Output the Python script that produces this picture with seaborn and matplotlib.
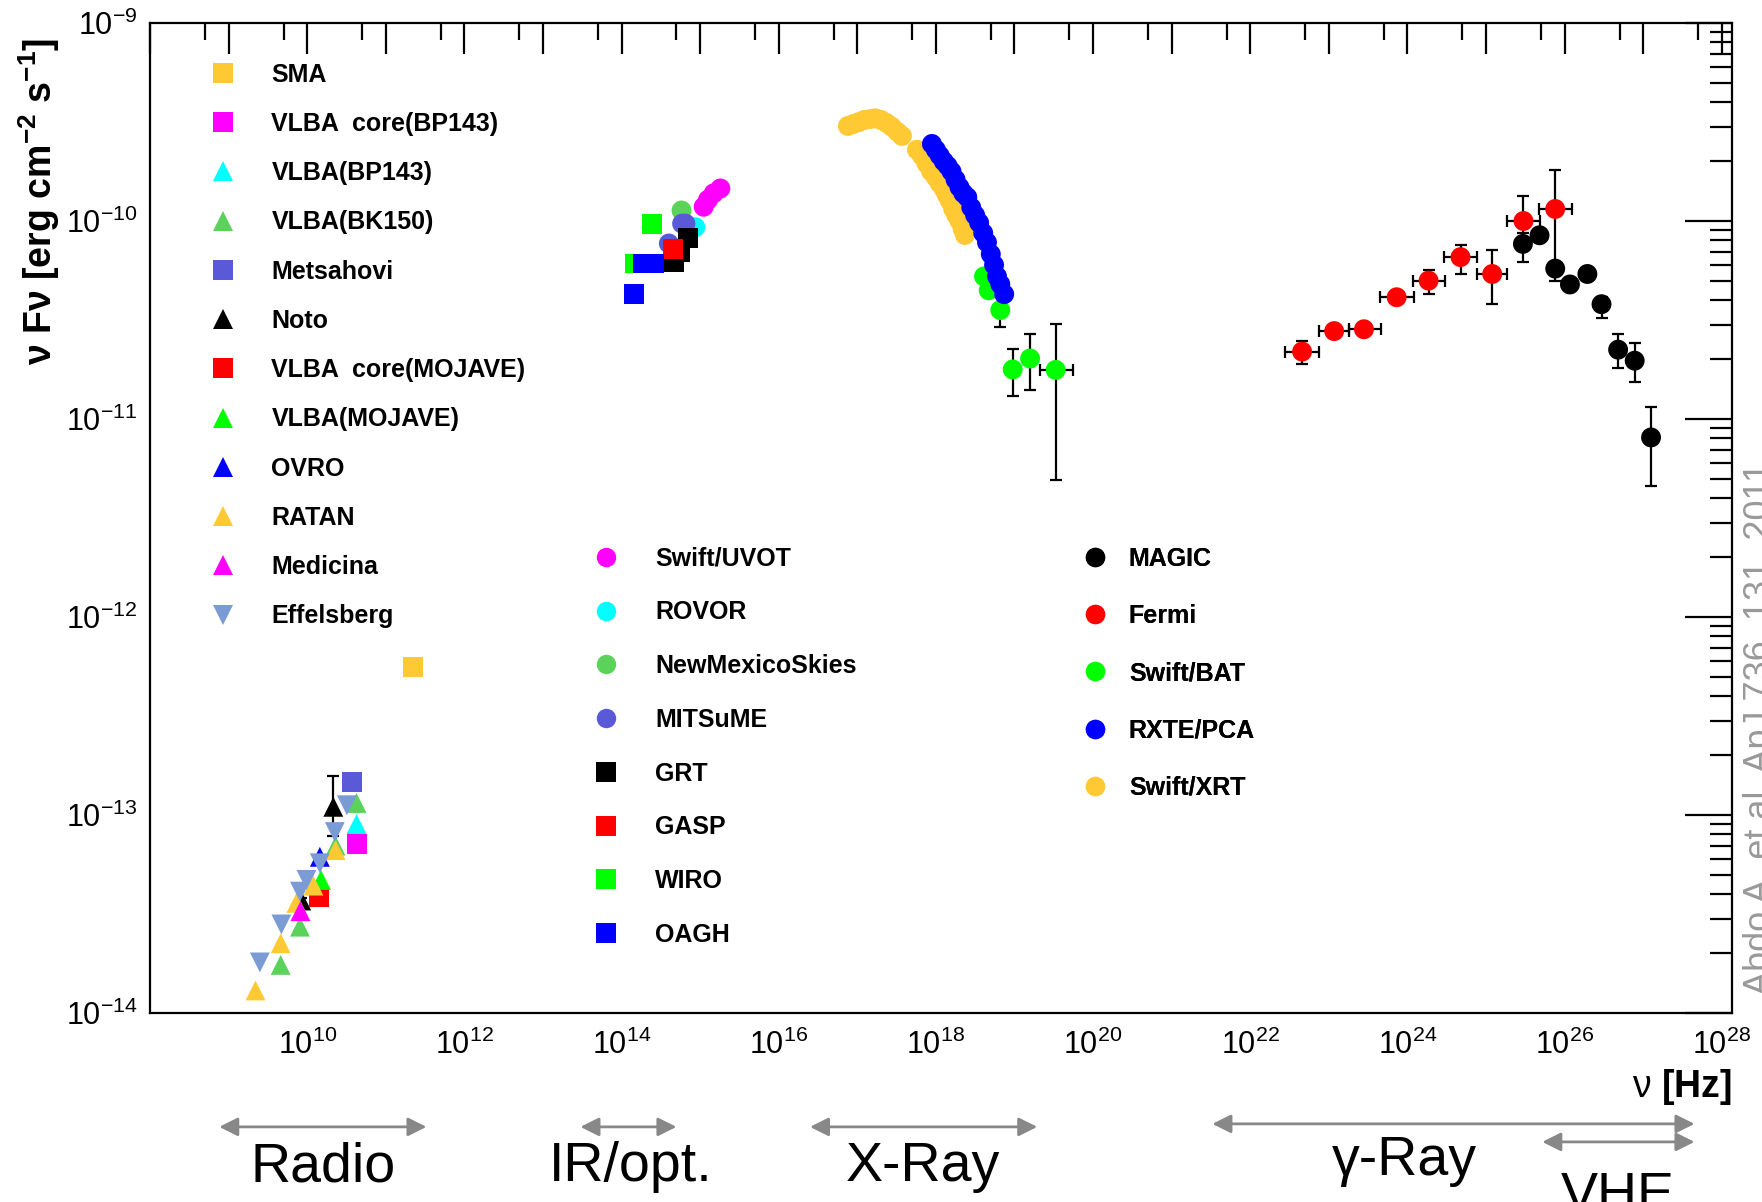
import matplotlib
matplotlib.use("Agg")
import matplotlib.pyplot as plt
import matplotlib.transforms as mtransforms
from matplotlib.lines import Line2D
from matplotlib.ticker import LogLocator, FuncFormatter, NullFormatter
import numpy as np
import pandas as pd
import seaborn as sns

# ---- SED points: (nu [Hz], nu F_nu [erg cm^-2 s^-1]) ----
# radio
sma = ([2.2e11], [5.6e-13])
vlba_core_bp143 = ([4.25e10], [7.15e-14])
vlba_bp143 = ([4.25e10], [9.0e-14])
vlba_bk150 = ([4.6e9, 8.1e9, 2.3e10, 4.25e10], [1.75e-14, 2.73e-14, 7.0e-14, 1.15e-13])
metsahovi = ([3.7e10], [1.47e-13])
noto = ([8.4e9, 2.15e10], [3.7e-14, 1.1e-13])
vlba_core_mojave = ([1.42e10], [3.84e-14])
vlba_mojave = ([1.5e10], [4.7e-14])
ovro = ([1.45e10], [6.15e-14])
ratan = ([2.2e9, 4.6e9, 7.3e9, 1.2e10, 2.3e10], [1.3e-14, 2.25e-14, 3.6e-14, 4.4e-14, 6.65e-14])
medicina = ([8.2e9], [3.27e-14])
effelsberg = ([2.5e9, 4.7e9, 8.1e9, 9.8e9, 1.45e10, 2.25e10, 3.2e10],
              [1.8e-14, 2.8e-14, 4.1e-14, 4.7e-14, 5.7e-14, 8.2e-14, 1.12e-13])

# IR / optical / UV
uvot = ([1.11e15, 1.26e15, 1.49e15, 1.81e15], [1.18e-10, 1.28e-10, 1.38e-10, 1.46e-10])
rovor = ([8.7e14], [9.3e-11])
nms = ([5.8e14], [1.13e-10])
mitsume = ([4.0e14, 5.9e14, 6.5e14], [7.7e-11, 9.7e-11, 9.7e-11])
grt = ([4.6e14, 5.6e14, 7.1e14], [6.2e-11, 7.0e-11, 8.2e-11])
gasp = ([4.5e14], [7.2e-11])
wiro = ([1.47e14, 2.43e14], [6.1e-11, 9.7e-11])
oagh = ([1.43e14, 1.9e14, 2.57e14], [4.3e-11, 6.1e-11, 6.1e-11])

# X-ray
xrt = ([7.6e16, 8.9e16, 1.05e17, 1.23e17, 1.45e17, 1.7e17, 2.0e17, 2.34e17, 2.75e17, 3.24e17, 3.7e17,
        5.75e17, 6.6e17, 7.6e17, 8.7e17, 1.0e18, 1.12e18, 1.26e18, 1.38e18, 1.51e18, 1.66e18,
        1.82e18, 2.0e18, 2.19e18, 2.34e18],
       [3.02e-10, 3.09e-10, 3.16e-10, 3.24e-10, 3.27e-10, 3.3e-10, 3.24e-10, 3.13e-10, 2.99e-10, 2.82e-10, 2.69e-10,
        2.29e-10, 2.14e-10, 1.95e-10, 1.78e-10, 1.66e-10, 1.55e-10, 1.45e-10, 1.35e-10, 1.26e-10, 1.15e-10,
        1.07e-10, 1.0e-10, 9.1e-11, 8.5e-11])
rxte = ([8.9e17, 1.0e18, 1.12e18, 1.26e18, 1.41e18, 1.58e18, 1.78e18, 2.0e18, 2.24e18, 2.51e18,
         2.82e18, 3.16e18, 3.55e18, 4.0e18, 4.47e18, 5.0e18, 5.5e18, 6.0e18, 6.6e18, 7.4e18],
        [2.45e-10, 2.29e-10, 2.14e-10, 2.0e-10, 1.9e-10, 1.78e-10, 1.62e-10, 1.48e-10, 1.38e-10, 1.32e-10,
         1.17e-10, 1.07e-10, 9.8e-11, 8.7e-11, 7.8e-11, 6.8e-11, 6.0e-11, 5.25e-11, 4.8e-11, 4.27e-11])
bat_nu = [4.1e18, 4.7e18, 6.6e18, 9.5e18, 1.58e19, 3.35e19]
bat_f = [5.25e-11, 4.47e-11, 3.55e-11, 1.78e-11, 2.02e-11, 1.77e-11]
bat_f_lo = [5.0e-11, 4.15e-11, 2.9e-11, 1.3e-11, 1.4e-11, 4.9e-12]
bat_f_hi = [5.5e-11, 4.8e-11, 5.0e-11, 2.27e-11, 2.68e-11, 3.02e-11]
bat_nu_lo = [4.1e18, 4.7e18, 6.6e18, 9.5e18, 1.58e19, 2.14e19]
bat_nu_hi = [4.1e18, 4.7e18, 6.6e18, 9.5e18, 1.58e19, 5.5e19]

# gamma-ray
fermi_nu = [4.57e22, 1.17e23, 2.8e23, 7.3e23, 1.86e24, 4.74e24, 1.2e25, 3.0e25, 7.6e25]
fermi_f = [2.19e-11, 2.78e-11, 2.84e-11, 4.12e-11, 5.0e-11, 6.57e-11, 5.4e-11, 1.0e-10, 1.15e-10]
fermi_f_lo = [1.9e-11, 2.7e-11, 2.76e-11, 3.95e-11, 4.28e-11, 5.4e-11, 3.81e-11, 7.15e-11, 5.8e-11]
fermi_f_hi = [2.48e-11, 2.86e-11, 2.92e-11, 4.3e-11, 5.66e-11, 7.6e-11, 7.15e-11, 1.34e-10, 1.81e-10]
fermi_nu_lo = [2.8e22, 7.4e22, 1.82e23, 4.47e23, 1.17e24, 2.88e24, 7.6e24, 1.86e25, 4.7e25]
fermi_nu_hi = [7.6e22, 1.82e23, 4.57e23, 1.2e24, 3.0e24, 7.6e24, 1.86e25, 4.8e25, 1.23e26]

magic_nu = [2.95e25, 4.8e25, 7.6e25, 1.17e26, 1.95e26, 2.95e26, 4.8e26, 7.8e26, 1.26e27]
magic_f = [7.66e-11, 8.47e-11, 5.75e-11, 4.78e-11, 5.4e-11, 3.8e-11, 2.24e-11, 1.97e-11, 8.07e-12]
magic_f_lo = [6.24e-11, 8.1e-11, 5.0e-11, 4.5e-11, 5.1e-11, 3.24e-11, 1.8e-11, 1.53e-11, 4.57e-12]
magic_f_hi = [8.67e-11, 8.8e-11, 6.2e-11, 5.05e-11, 5.7e-11, 4.15e-11, 2.69e-11, 2.43e-11, 1.15e-11]

noto_f_lo = [3.6e-14, 7.8e-14]
noto_f_hi = [3.8e-14, 1.58e-13]

# legend columns: (label, data, marker, colour)
ORANGE = "#ffc933"
MGREEN = "#5bd35b"
SLATE = "#5a5ad8"
LBLUE = "#7b9bd4"

radio_legend = [
    ("SMA", sma, "s", ORANGE),
    ("VLBA  core(BP143)", vlba_core_bp143, "s", "#ff00ff"),
    ("VLBA(BP143)", vlba_bp143, "^", "#00ffff"),
    ("VLBA(BK150)", vlba_bk150, "^", MGREEN),
    ("Metsahovi", metsahovi, "s", SLATE),
    ("Noto", noto, "^", "#000000"),
    ("VLBA  core(MOJAVE)", vlba_core_mojave, "s", "#ff0000"),
    ("VLBA(MOJAVE)", vlba_mojave, "^", "#00ff00"),
    ("OVRO", ovro, "^", "#0000ff"),
    ("RATAN", ratan, "^", ORANGE),
    ("Medicina", medicina, "^", "#ff00ff"),
    ("Effelsberg", effelsberg, "v", LBLUE),
]
optical_legend = [
    ("Swift/UVOT", uvot, "o", "#ff00ff"),
    ("ROVOR", rovor, "o", "#00ffff"),
    ("NewMexicoSkies", nms, "o", MGREEN),
    ("MITSuME", mitsume, "o", SLATE),
    ("GRT", grt, "s", "#000000"),
    ("GASP", gasp, "s", "#ff0000"),
    ("WIRO", wiro, "s", "#00ff00"),
    ("OAGH", oagh, "s", "#0000ff"),
]
high_legend = [
    ("MAGIC", (magic_nu, magic_f), "o", "#000000"),
    ("Fermi", (fermi_nu, fermi_f), "o", "#ff0000"),
    ("Swift/BAT", (bat_nu, bat_f), "o", "#00ff00"),
    ("RXTE/PCA", rxte, "o", "#0000ff"),
    ("Swift/XRT", xrt, "o", ORANGE),
]
draw_order = ["Swift/XRT", "Swift/BAT", "RXTE/PCA", "Fermi", "MAGIC"]

# energy bands below the axis: label, arrow from/to [Hz], label centre [Hz]
bands = [
    ("Radio", 7.6e8, 3.3e11, 1.6e10),
    ("IR/opt.", 3.0e13, 5.0e14, 1.3e14),
    ("X-Ray", 2.5e16, 1.95e19, 6.8e17),
    ("γ-Ray", 3.3e21, 4.5e27, 9.1e23),
    ("VHE", 5.2e25, 4.5e27, 4.8e26),
]

# ---- build the long table ----
rows = []
entries = radio_legend + optical_legend
entries += [e for name in draw_order for e in high_legend if e[0] == name]
for label, (nu, f), m, c in entries:
    for a, b in zip(nu, f):
        rows.append({"nu": a, "flux": b, "inst": label})
df = pd.DataFrame(rows)

all_legend = radio_legend + optical_legend + high_legend
palette = {e[0]: e[3] for e in all_legend}
markers = {e[0]: e[2] for e in all_legend}

sns.set_style("white")
plt.rcParams["font.family"] = ["Liberation Sans", "DejaVu Sans"]
plt.rcParams["mathtext.fontset"] = "custom"
plt.rcParams["mathtext.rm"] = "Liberation Sans"
plt.rcParams["mathtext.it"] = "Liberation Sans:italic"
plt.rcParams["mathtext.bf"] = "Liberation Sans:bold"
plt.rcParams["axes.unicode_minus"] = False
plt.rcParams["text.color"] = "black"
plt.rcParams["axes.labelcolor"] = "black"

fig = plt.figure(figsize=(17.62, 12.02), dpi=100)
ax = fig.add_axes([150 / 1762, 1 - 1013 / 1202, 1582 / 1762, 990 / 1202])

# error bars (under the markers)
eb = dict(fmt="none", ecolor="black", elinewidth=1.6, capsize=4, capthick=1.6, zorder=2)
ax.errorbar(fermi_nu, fermi_f,
            yerr=[np.subtract(fermi_f, fermi_f_lo), np.subtract(fermi_f_hi, fermi_f)],
            xerr=[np.subtract(fermi_nu, fermi_nu_lo), np.subtract(fermi_nu_hi, fermi_nu)], **eb)
ax.errorbar(magic_nu, magic_f,
            yerr=[np.subtract(magic_f, magic_f_lo), np.subtract(magic_f_hi, magic_f)], **eb)
ax.errorbar(bat_nu, bat_f,
            yerr=[np.subtract(bat_f, bat_f_lo), np.subtract(bat_f_hi, bat_f)],
            xerr=[np.subtract(bat_nu, bat_nu_lo), np.subtract(bat_nu_hi, bat_nu)], **eb)
ax.errorbar(noto[0], noto[1],
            yerr=[np.subtract(noto[1], noto_f_lo), np.subtract(noto_f_hi, noto[1])], **eb)

sns.scatterplot(data=df, x="nu", y="flux", hue="inst", style="inst",
                palette=palette, markers=markers, s=205, linewidth=0,
                legend=False, ax=ax, zorder=3)

ax.set_xscale("log")
ax.set_yscale("log")
ax.set_xlim(1e8, 1.35e28)
ax.set_ylim(1e-14, 1e-9)

# ROOT-like axes
for sp in ax.spines.values():
    sp.set_linewidth(1.6)
    sp.set_color("black")


def x_label(v, p):
    e = int(round(np.log10(v)))
    return r"$10^{%d}$" % e if e % 2 == 0 and e > 8 else ""


ax.xaxis.set_major_locator(LogLocator(base=10, numticks=40))
ax.xaxis.set_minor_locator(LogLocator(base=10, subs=[5.0], numticks=40))
ax.xaxis.set_minor_formatter(NullFormatter())
ax.xaxis.set_major_formatter(FuncFormatter(x_label))
ax.yaxis.set_major_locator(LogLocator(base=10, numticks=20))
ax.yaxis.set_minor_locator(LogLocator(base=10, subs=np.arange(2, 10), numticks=20))
ax.yaxis.set_minor_formatter(NullFormatter())
ax.yaxis.set_major_formatter(FuncFormatter(lambda v, p: r"$10^{%d}$" % round(np.log10(v))))
ax.tick_params(which="both", direction="in", top=True, right=True, width=1.6,
               colors="black", labelsize=22)
ax.tick_params(axis="x", which="major", length=22, pad=12)
ax.tick_params(axis="x", which="minor", length=12)
ax.tick_params(axis="y", which="major", length=34, pad=9)
ax.tick_params(axis="y", which="minor", length=16)

ax.set_ylabel(r"$\mathbf{\nu\ F\nu\ [erg\ cm^{-2}\ s^{-1}]}$", fontsize=27)
ax.yaxis.set_label_coords(-0.07, 0.82)
ax.yaxis.label.set_va("center")
ax.yaxis.label.set_ha("center")
ax.set_xlabel(r"ν $\mathbf{[Hz]}$", fontsize=27)
ax.xaxis.set_label_coords(1.0, -0.075)
ax.xaxis.label.set_ha("right")
ax.xaxis.label.set_va("center")


def make_legend(items, x, y, spacing, textpad):
    handles = [Line2D([], [], linestyle="none", marker=m, color=c, markersize=14,
                      markeredgewidth=0) for _, _, m, c in items]
    leg = ax.legend(handles, [i[0] for i in items], loc="upper left",
                    bbox_to_anchor=(x, y), frameon=False, borderpad=0,
                    borderaxespad=0, handlelength=1.0, handletextpad=textpad,
                    labelspacing=spacing, prop={"weight": "bold", "size": 18})
    ax.add_artist(leg)
    return leg


make_legend(radio_legend, 0.0385, 0.960, 1.01, 1.42)
make_legend(optical_legend, 0.2805, 0.471, 1.19, 1.45)
make_legend(high_legend, 0.5895, 0.471, 1.33, 0.85)

# band arrows and labels under the frequency axis
trans = mtransforms.blended_transform_factory(ax.transData, fig.transFigure)
for name, lo, hi, mid in bands:
    y_arrow = 0.0625
    y_text = 0.029
    if name == "γ-Ray":
        y_arrow, y_text = 0.065, 0.034
    if name == "VHE":
        y_arrow, y_text = 0.05, 0.004
    ax.annotate("", xy=(hi, y_arrow), xytext=(lo, y_arrow), xycoords=trans,
                textcoords=trans, annotation_clip=False,
                arrowprops=dict(arrowstyle="<|-|>", color="#888888", lw=2,
                                mutation_scale=28, shrinkA=0, shrinkB=0))
    ax.text(mid, y_text, name, transform=trans, ha="center", va="center",
            fontsize=40, clip_on=False)

fig.text(1770 / 1762, 1 - 995 / 1202, "Abdo A. et al. ApJ 736, 131, 2011",
         rotation=90, rotation_mode="anchor", ha="left", va="baseline",
         color="#999999", fontsize=26)

fig.savefig("out.png", dpi=100)
